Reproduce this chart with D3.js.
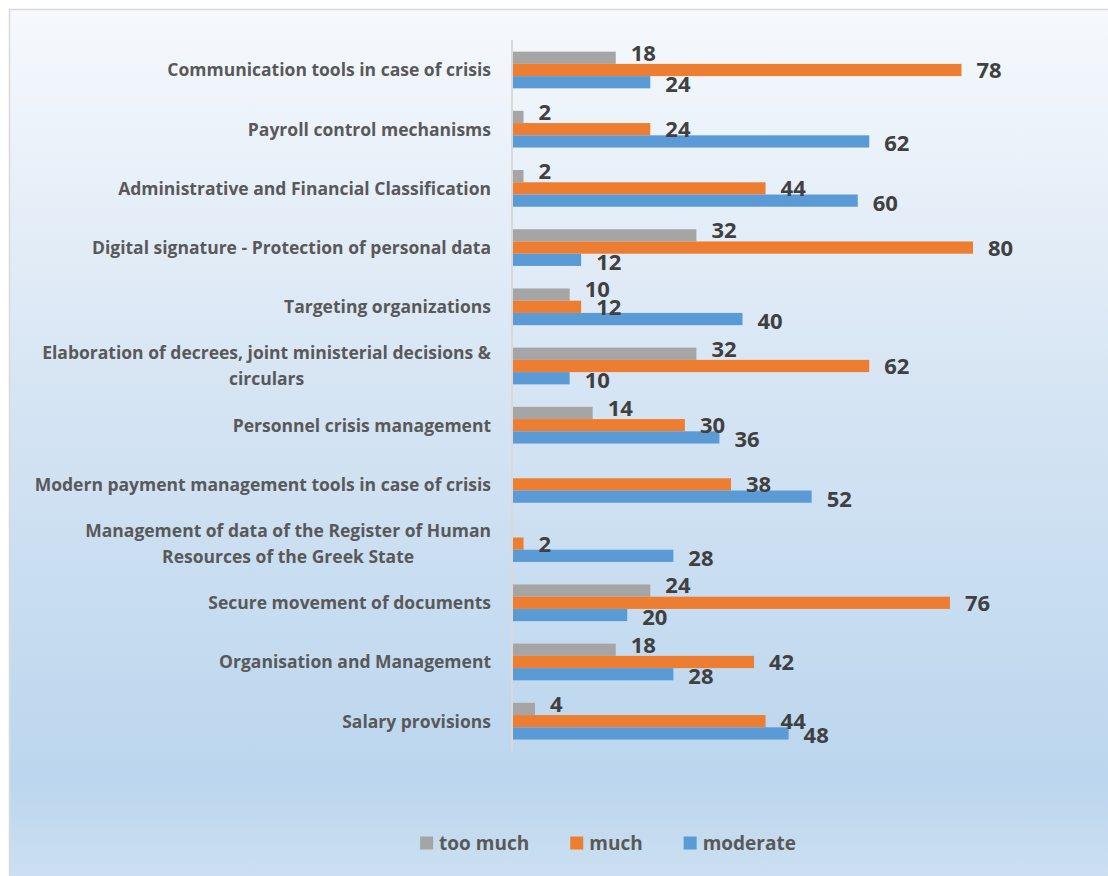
<!DOCTYPE html>
<html>
<head>
<meta charset="utf-8">
<script src="https://cdn.jsdelivr.net/npm/d3@7"></script>
<style>
  body { margin: 0; background: #fff; }
  text { font-family: "Open Sans", "DejaVu Sans", sans-serif; font-weight: bold; }
</style>
</head>
<body>
<div id="vis"></div>
<script>
// Data, top to bottom as in the chart
const categories = [
    'Communication tools in case of crisis',
    'Payroll control mechanisms',
    'Administrative and Financial Classification',
    'Digital signature - Protection of personal data',
    'Targeting organizations',
    'Elaboration of decrees, joint ministerial decisions & circulars',
    'Personnel crisis management',
    'Modern payment management tools in case of crisis',
    'Management of data of the Register of Human Resources of the Greek State',
    'Secure movement of documents',
    'Organisation and Management',
    'Salary provisions'
]
const seriesNames = ['too much', 'much', 'moderate']
const tooMuch  = [18, 2, 2, 32, 10, 32, 14, null, null, 24, 18, 4]
const much     = [78, 24, 44, 80, 12, 62, 30, 38, 2, 76, 42, 44]
const moderate = [24, 62, 60, 12, 40, 10, 36, 52, 28, 20, 28, 48]
const seriesValues = [tooMuch, much, moderate]
const seriesColors = ['#a5a5a5', '#ed7d31', '#5b9bd5']

const W = 1108, H = 876
const x0 = 512

let svg = d3.select('#vis').append('svg')
    .attr('width', W)
    .attr('height', H)

// background gradient
let grad = svg.append('defs').append('linearGradient')
    .attr('id', 'bg').attr('x1', 0).attr('y1', 0).attr('x2', 0).attr('y2', 1)
grad.append('stop').attr('offset', '0%').attr('stop-color', '#f6f9fd')
grad.append('stop').attr('offset', '45%').attr('stop-color', '#d5e4f3')
grad.append('stop').attr('offset', '88%').attr('stop-color', '#bbd6ee')
grad.append('stop').attr('offset', '100%').attr('stop-color', '#cde0f1')

svg.append('rect')
    .attr('x', 9.5).attr('y', 9.5)
    .attr('width', W).attr('height', H)
    .attr('fill', 'url(#bg)')
    .attr('stroke', '#d9d9d9')
    .attr('stroke-width', 1.5)

// scales
let xScale = d3.scaleLinear().domain([0, 80]).range([x0, 973])
let yScale = d3.scaleBand()
    .domain(categories)
    .range([40.4, 750.8])
    .paddingInner(0.38)
    .paddingOuter(0.19)
let ySub = d3.scaleBand()
    .domain(seriesNames)
    .range([0, yScale.bandwidth()])

// label nudge per series (grey labels sit a bit higher, blue a bit lower)
const labelShift = {'too much': -5, 'much': 0, 'moderate': 2}

// rows data
let rows = []
categories.forEach((c, i) => {
    seriesNames.forEach((s, j) => {
        rows.push({cat: c, series: s, value: seriesValues[j][i], color: seriesColors[j]})
    })
})
let present = rows.filter(d => d.value !== null)

// bars
svg.append('g').selectAll('rect')
    .data(present)
    .enter()
    .append('rect')
        .attr('x', x0)
        .attr('y', d => yScale(d.cat) + ySub(d.series))
        .attr('width', d => xScale(d.value) - x0)
        .attr('height', ySub.bandwidth())
        .attr('fill', d => d.color)

// axis line
svg.append('line')
    .attr('x1', x0).attr('x2', x0)
    .attr('y1', 40).attr('y2', 751)
    .attr('stroke', '#d9d9d9')
    .attr('stroke-width', 2)

// value labels
svg.append('g').selectAll('text')
    .data(present)
    .enter()
    .append('text')
        .attr('x', d => xScale(d.value) + 15)
        .attr('y', d => yScale(d.cat) + ySub(d.series) + ySub.bandwidth() / 2 + labelShift[d.series])
        .attr('dy', '0.36em')
        .attr('font-size', 22)
        .attr('fill', '#404040')
        .text(d => d.value)

// category labels, wrapped and centred as a block
let catG = svg.append('g')
categories.forEach(c => {
    let t = catG.append('text')
        .attr('x', 491)
        .attr('text-anchor', 'end')
        .attr('font-size', 17.5)
        .attr('fill', '#595959')
    let words = c.split(' ')
    let lines = [], line = []
    let probe = t.append('tspan')
    words.forEach(w => {
        line.push(w)
        probe.text(line.join(' '))
        if (probe.node().getComputedTextLength() > 470 && line.length > 1) {
            line.pop()
            lines.push(line.join(' '))
            line = [w]
        }
    })
    lines.push(line.join(' '))
    probe.remove()
    let cy = yScale(c) + yScale.bandwidth() / 2
    let lh = 26
    let widths = []
    lines.forEach((l, k) => {
        let ts = t.append('tspan')
            .attr('x', 491)
            .attr('y', cy + (k - (lines.length - 1) / 2) * lh)
            .attr('dy', '0.36em')
            .text(l)
        widths.push(ts.node().getComputedTextLength())
    })
    // multi-line labels are centred on the widest line
    if (lines.length > 1) {
        let maxW = d3.max(widths)
        t.selectAll('tspan')
            .attr('text-anchor', 'middle')
            .attr('x', 491 - maxW / 2)
    }
})

// legend
let legend = svg.append('g')
let lx = 0
seriesNames.forEach((s, j) => {
    let g = legend.append('g').attr('transform', `translate(${lx},0)`)
    g.append('rect')
        .attr('x', 0).attr('y', -6.5)
        .attr('width', 13).attr('height', 13)
        .attr('fill', seriesColors[j])
    let t = g.append('text')
        .attr('x', 19)
        .attr('dy', '0.36em')
        .attr('font-size', 19)
        .attr('fill', '#595959')
        .text(s)
    lx += 19 + t.node().getComputedTextLength() + 41
})
let legW = lx - 41
legend.attr('transform', `translate(${608 - legW / 2},843)`)
</script>
</body>
</html>
